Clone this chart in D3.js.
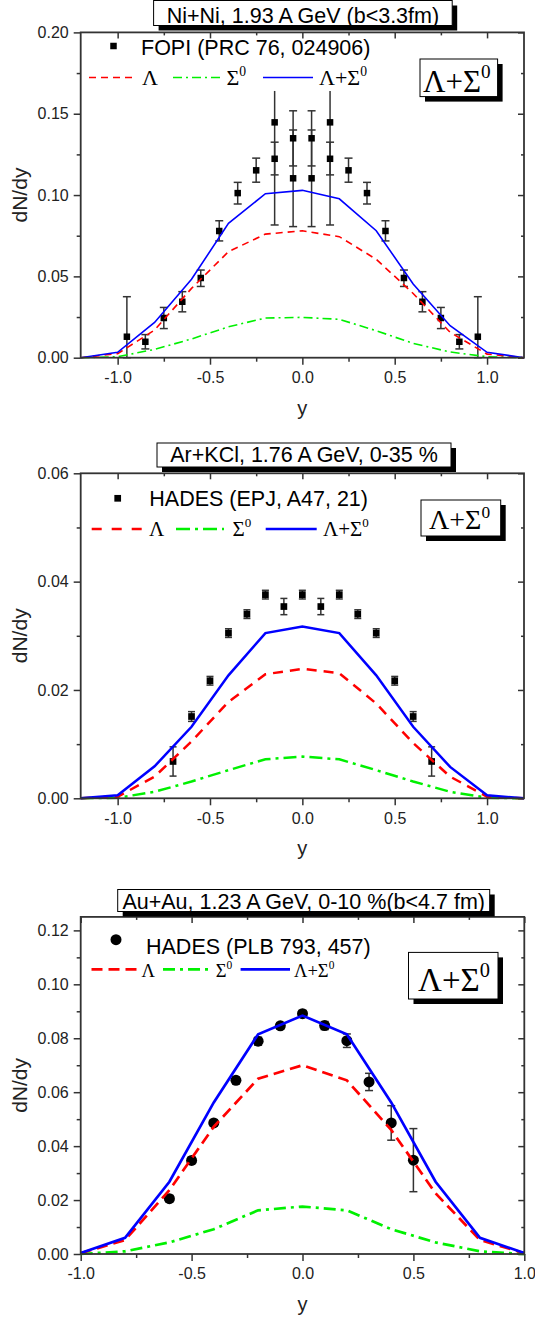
<!DOCTYPE html>
<html><head><meta charset="utf-8">
<script src="https://cdn.jsdelivr.net/npm/d3@7"></script>
<style>html,body{margin:0;padding:0;background:#fff;}svg{display:block;}</style>
</head><body>
<script>
// ---------- DATA ----------
// model rapidity grid
const yModelA = [-1.2,-1.0,-0.8,-0.6,-0.4,-0.2,0.0,0.2,0.4,0.6,0.8,1.0,1.2];
const yModelB = [-1.0,-0.8,-0.6,-0.4,-0.2,0.0,0.2,0.4,0.6,0.8,1.0];

// Panel 1: Ni+Ni 1.93 A GeV
const lam1 = [0,0.0025,0.017,0.0426,0.0652,0.076,0.078,0.0744,0.0605,0.0395,0.0156,0.0022,0];
const sig1 = [0,0.0006,0.0051,0.0115,0.019,0.0244,0.0248,0.0236,0.0166,0.0088,0.0035,0.0006,0];
const sum1 = [0,0.0033,0.0217,0.0482,0.0826,0.1008,0.1029,0.0977,0.0781,0.0453,0.0197,0.0033,0];
const fopiX = [-0.95,-0.85,-0.75,-0.65,-0.55,-0.45,-0.35,-0.25,-0.15,-0.15,-0.05,-0.05,0.05,0.05,0.15,0.15,0.25,0.35,0.45,0.55,0.65,0.75,0.85,0.95];
const fopiY = [0.0129,0.0098,0.0244,0.0344,0.049,0.0779,0.1012,0.1152,0.1447,0.1223,0.1349,0.1103,0.1349,0.1103,0.1447,0.1223,0.1152,0.1012,0.0779,0.049,0.0344,0.0244,0.0098,0.0129];
// error bars: [x, low, high, top cap shown]
const fopiErr = [
  [-0.95,0,0.0375,1],[-0.85,0.0054,0.0142,1],[-0.75,0.0179,0.0309,1],[-0.65,0.0282,0.0406,1],
  [-0.55,0.0438,0.0539,1],[-0.45,0.0718,0.0842,1],[-0.35,0.0945,0.1078,1],[-0.25,0.1079,0.1227,1],
  [-0.15,0.0816,0.164,0],[-0.15,0.1124,0.1325,1],[-0.05,0.0806,0.140,1],[-0.05,0.1179,0.1518,1],
  [0.05,0.0806,0.140,1],[0.05,0.1179,0.1518,1],[0.15,0.0816,0.164,0],[0.15,0.1124,0.1325,1],
  [0.25,0.1079,0.1227,1],[0.35,0.0945,0.1078,1],[0.45,0.0718,0.0842,1],[0.55,0.0438,0.0539,1],
  [0.65,0.0282,0.0406,1],[0.75,0.0179,0.0309,1],[0.85,0.0054,0.0142,1],[0.95,0,0.0375,1]];

// Panel 2: Ar+KCl 1.76 A GeV
const lam2 = [0,0.0003,0.004,0.0105,0.0178,0.0229,0.0239,0.0231,0.0175,0.0102,0.004,0.0003,0];
const sig2 = [0,0.0001,0.0012,0.0031,0.0052,0.0072,0.0077,0.0072,0.0052,0.0031,0.0012,0.0001,0];
const sum2 = [0,0.00055,0.0059,0.0132,0.0227,0.0305,0.0317,0.0305,0.0227,0.0132,0.0058,0.00055,0];
const hadesAX = [-0.7,-0.6,-0.5,-0.4,-0.3,-0.2,-0.1,0.0,0.1,0.2,0.3,0.4,0.5,0.6,0.7];
const hadesAY = [0.0068,0.0151,0.0217,0.0305,0.034,0.0376,0.0354,0.0376,0.0354,0.0376,0.034,0.0305,0.0217,0.0151,0.0068];
const hadesAE = [0.0027,0.0009,0.0008,0.0008,0.0008,0.0008,0.0015,0.0008,0.0015,0.0008,0.0008,0.0008,0.0008,0.0009,0.0027];

// Panel 3: Au+Au 1.23 A GeV
const lam3 = [0.0003,0.0052,0.0237,0.0472,0.065,0.070,0.0644,0.046,0.0225,0.0052,0.0003];
const sig3 = [0,0.001,0.0043,0.0092,0.0162,0.0176,0.0162,0.0092,0.0043,0.001,0];
const sum3 = [0.0004,0.006,0.0268,0.0562,0.0815,0.0884,0.0815,0.0562,0.0268,0.006,0.0004];
const hadesBX = [-0.6,-0.5,-0.4,-0.3,-0.2,-0.1,0.0,0.1,0.2,0.3,0.4,0.5];
const hadesBY = [0.0205,0.0347,0.0486,0.0644,0.0789,0.0846,0.0891,0.0847,0.0791,0.0638,0.0486,0.0348];
const hadesBE = [0.0012,0.0012,0.0012,0.0012,0.0015,0.0012,0.0012,0.0015,0.0025,0.0032,0.0064,0.0117];

const titles = ["Ni+Ni, 1.93 A GeV (b<3.3fm)","Ar+KCl, 1.76 A GeV, 0-35 %","Au+Au, 1.23 A GeV, 0-10 %(b<4.7 fm)"];
const dataLabels = ["FOPI (PRC 76, 024906)","HADES (EPJ, A47, 21)","HADES (PLB 793, 457)"];
const xTicksA = [-1.0,-0.5,0.0,0.5,1.0];
const xMinorA = [-0.75,-0.25,0.25,0.75];
const yTicks1 = [0,0.05,0.10,0.15,0.20], yMinor1 = [0.025,0.075,0.125,0.175];
const yTicks2 = [0,0.02,0.04,0.06], yMinor2 = [0.01,0.03,0.05];
const yTicks3 = [0,0.02,0.04,0.06,0.08,0.10,0.12], yMinor3 = [0.01,0.03,0.05,0.07,0.09,0.11];

// ---------- DRAW ----------
const SANS = "'Liberation Sans', Arial, sans-serif";
const SERIF = "'Liberation Serif', 'Times New Roman', serif";
const AX = "#333";
const GREEN = "#00f000";
const svg = d3.select("body").append("svg").attr("width",535).attr("height",1320);
const fmt1 = d => d3.format(".1f")(d).replace("\u2212","-");
const fmt2 = d => d3.format(".2f")(d).replace("\u2212","-");

function supText(g, x, y, size, base, sup) {
  const t = g.append("text").attr("x",x).attr("y",y).attr("font-family",SERIF).attr("font-size",size).attr("fill","#000");
  t.append("tspan").text(base);
  if (sup) t.append("tspan").attr("dy",-size*0.42).attr("font-size",size*0.62).text(sup);
  return t;
}
function shadowBox(g, x, y, w, h, off) {
  g.append("rect").attr("x",x+off).attr("y",y+off).attr("width",w).attr("height",h).attr("fill","#000");
  g.append("rect").attr("x",x).attr("y",y).attr("width",w).attr("height",h).attr("fill","#fff").attr("stroke","#000").attr("stroke-width",1);
}

function panel(c) {
  const g = svg.append("g");
  const x = d3.scaleLinear().domain(c.xd).range([c.L, c.R]);
  const y = d3.scaleLinear().domain(c.yd).range([c.B, c.T]);

  // axes
  const styleAxis = (sel) => { sel.select(".domain").remove(); sel.selectAll("line").attr("stroke",AX).attr("stroke-width",1.5); sel.selectAll("text").attr("font-family",SANS).attr("font-size",16).attr("fill","#222"); };
  g.append("g").attr("transform",`translate(0,${c.B})`).call(d3.axisBottom(x).tickValues(c.xt).tickSize(7).tickPadding(7).tickFormat(fmt1)).call(styleAxis);
  g.append("g").attr("transform",`translate(0,${c.B})`).call(d3.axisBottom(x).tickValues(c.xm).tickSize(4).tickFormat("")).call(styleAxis);
  g.append("g").attr("transform",`translate(${c.L},0)`).call(d3.axisLeft(y).tickValues(c.yt).tickSize(7).tickPadding(5).tickFormat(fmt2)).call(styleAxis);
  g.append("g").attr("transform",`translate(${c.L},0)`).call(d3.axisLeft(y).tickValues(c.ym).tickSize(4).tickFormat("")).call(styleAxis);
  g.append("g").attr("transform",`translate(0,${c.T})`).call(d3.axisTop(x).tickValues(c.xt).tickSize(-6).tickFormat("")).call(styleAxis);
  g.append("g").attr("transform",`translate(0,${c.T})`).call(d3.axisTop(x).tickValues(c.xm).tickSize(-3).tickFormat("")).call(styleAxis);
  g.append("g").attr("transform",`translate(${c.R},0)`).call(d3.axisRight(y).tickValues(c.yt).tickSize(-6).tickFormat("")).call(styleAxis);
  g.append("g").attr("transform",`translate(${c.R},0)`).call(d3.axisRight(y).tickValues(c.ym).tickSize(-3).tickFormat("")).call(styleAxis);

  // axis titles
  g.append("text").attr("x",(c.L+c.R)/2).attr("y",c.B+57).attr("text-anchor","middle").attr("font-family",SANS).attr("font-size",20).attr("fill","#222").text("y");
  g.append("text").attr("transform",`translate(27,${(c.T+c.B)/2}) rotate(-90)`).attr("text-anchor","middle").attr("font-family",SANS).attr("font-size",21).attr("fill","#222").text("dN/dy");

  // data error bars
  const eb = g.append("g").attr("stroke",AX).attr("stroke-width",1.5);
  c.err.forEach(e => {
    const [ex, lo, hi, capTop] = e;
    eb.append("line").attr("x1",x(ex)).attr("x2",x(ex)).attr("y1",y(lo)).attr("y2",y(hi));
    eb.append("line").attr("x1",x(ex)-c.cap/2).attr("x2",x(ex)+c.cap/2).attr("y1",y(lo)).attr("y2",y(lo));
    if (capTop) eb.append("line").attr("x1",x(ex)-c.cap/2).attr("x2",x(ex)+c.cap/2).attr("y1",y(hi)).attr("y2",y(hi));
  });
  // markers
  const mk = g.append("g").attr("fill","#000");
  c.px.forEach((px,i) => {
    if (c.circle) mk.append("circle").attr("cx",x(px)).attr("cy",y(c.py[i])).attr("r",c.ms/2);
    else mk.append("rect").attr("x",x(px)-c.ms/2).attr("y",y(c.py[i])-c.ms/2).attr("width",c.ms).attr("height",c.ms);
  });

  // model curves
  const line = d3.line().x(d=>x(d[0])).y(d=>y(d[1]));
  const mkPts = (arr) => c.mx.map((v,i)=>[v,arr[i]]);
  g.append("path").attr("d",line(mkPts(c.sig))).attr("fill","none").attr("stroke",GREEN).attr("stroke-width",c.lw).attr("stroke-dasharray",c.dd);
  g.append("path").attr("d",line(mkPts(c.lam))).attr("fill","none").attr("stroke","#ff0000").attr("stroke-width",c.lw).attr("stroke-dasharray",c.da);
  g.append("path").attr("d",line(mkPts(c.sum))).attr("fill","none").attr("stroke","#0000ff").attr("stroke-width",c.lw);

  // frame
  g.append("rect").attr("x",c.L).attr("y",c.T).attr("width",c.R-c.L).attr("height",c.B-c.T).attr("fill","none").attr("stroke",AX).attr("stroke-width",1.8);

  // title box
  const tb = c.tbox;
  shadowBox(g, tb[0], tb[1], tb[2], tb[3], 5);
  g.append("text").attr("x",tb[0]+tb[2]/2).attr("y",tb[4]).attr("text-anchor","middle").attr("font-family",SANS).attr("font-size",21.5).attr("fill","#000").text(c.title);

  // legend
  const lg = c.leg;
  if (c.circle) g.append("circle").attr("cx",lg.mx).attr("cy",lg.my).attr("r",c.ms/2);
  else g.append("rect").attr("x",lg.mx-c.ms/2).attr("y",lg.my-c.ms/2).attr("width",c.ms).attr("height",c.ms);
  g.append("text").attr("x",lg.tx).attr("y",lg.ty).attr("font-family",SANS).attr("font-size",21.5).attr("fill","#000").text(c.label);
  g.append("line").attr("x1",lg.r[0]).attr("x2",lg.r[1]).attr("y1",lg.ly).attr("y2",lg.ly).attr("stroke","#ff0000").attr("stroke-width",c.lw).attr("stroke-dasharray",c.lda);
  g.append("line").attr("x1",lg.gr[0]).attr("x2",lg.gr[1]).attr("y1",lg.ly).attr("y2",lg.ly).attr("stroke",GREEN).attr("stroke-width",c.lw).attr("stroke-dasharray",c.ldd);
  g.append("line").attr("x1",lg.b[0]).attr("x2",lg.b[1]).attr("y1",lg.ly).attr("y2",lg.ly).attr("stroke","#0000ff").attr("stroke-width",c.lw);
  supText(g, lg.r[2], lg.sy, lg.fs, "Λ", null);
  supText(g, lg.gr[2], lg.sy, lg.fs, "Σ", "0");
  supText(g, lg.b[2], lg.sy, lg.fs, "Λ+Σ", "0");

  // big label box
  const bb = c.bbox;
  shadowBox(g, bb[0], bb[1], bb[2], bb[3], 5);
  supText(g, bb[4], bb[5], bb[6], "Λ+Σ", "0");
}

panel({xd:[-1.2,1.2], yd:[0,0.20], L:80.7, R:524, T:32.4, B:357.7,
  xt:xTicksA, xm:xMinorA, yt:yTicks1, ym:yMinor1,
  mx:yModelA, lam:lam1, sig:sig1, sum:sum1, lw:1.6, da:"7,5", dd:"9,4,2,4", lda:"7,5", ldd:"9,4,2,4",
  px:fopiX, py:fopiY, err:fopiErr, ms:6.5, cap:8, circle:false,
  title:titles[0], tbox:[153.6,0.5,298.6,25,23],
  label:dataLabels[0],
  leg:{mx:113.5,my:46,tx:141,ty:55,ly:77.5,sy:85,fs:22,r:[89,137,142],gr:[173,223,226.5],b:[263,313,319]},
  bbox:[420,59,77.6,37.6,423,91.5,31]});

panel({xd:[-1.2,1.2], yd:[0,0.06], L:80.7, R:524, T:473.3, B:798.3,
  xt:xTicksA, xm:xMinorA, yt:yTicks2, ym:yMinor2,
  mx:yModelA, lam:lam2, sig:sig2, sum:sum2, lw:2.5, da:"10,7", dd:"13,5,3,5", lda:"10,10", ldd:"14,5,3,5",
  px:hadesAX, py:hadesAY, err:hadesAX.map((v,i)=>[v,hadesAY[i]-hadesAE[i],hadesAY[i]+hadesAE[i],1]), ms:6.7, cap:7, circle:false,
  title:titles[1], tbox:[157,443,294,24,462],
  label:dataLabels[1],
  leg:{mx:117.7,my:498.3,tx:149.3,ty:506,ly:529,sy:535.5,fs:21,r:[91.7,143.3,149],gr:[176,224,232.5],b:[265.7,316.7,323]},
  bbox:[421,500,79.7,36,429,529.3,28]});

panel({xd:[-1.0,1.0], yd:[0,0.125], L:80.7, R:524.3, T:916.9, B:1254,
  xt:xTicksA, xm:xMinorA, yt:yTicks3, ym:yMinor3,
  mx:yModelB, lam:lam3, sig:sig3, sum:sum3, lw:2.7, da:"11,6", dd:"12,5,3,5", lda:"11,6", ldd:"12,5,3,5",
  px:hadesBX, py:hadesBY, err:hadesBX.map((v,i)=>[v,hadesBY[i]-hadesBE[i],hadesBY[i]+hadesBE[i],1]), ms:11, cap:8, circle:true,
  title:titles[2], tbox:[117.7,889.5,372,22,908.5],
  label:dataLabels[2],
  leg:{mx:116,my:939.7,tx:146,ty:953.5,ly:969.4,sy:977,fs:18.5,r:[91.5,140,141.6],gr:[163,213,215.7],b:[240.6,290,294]},
  bbox:[408.5,952.4,89.5,46.6,418,990.7,33]});
</script>
</body></html>
